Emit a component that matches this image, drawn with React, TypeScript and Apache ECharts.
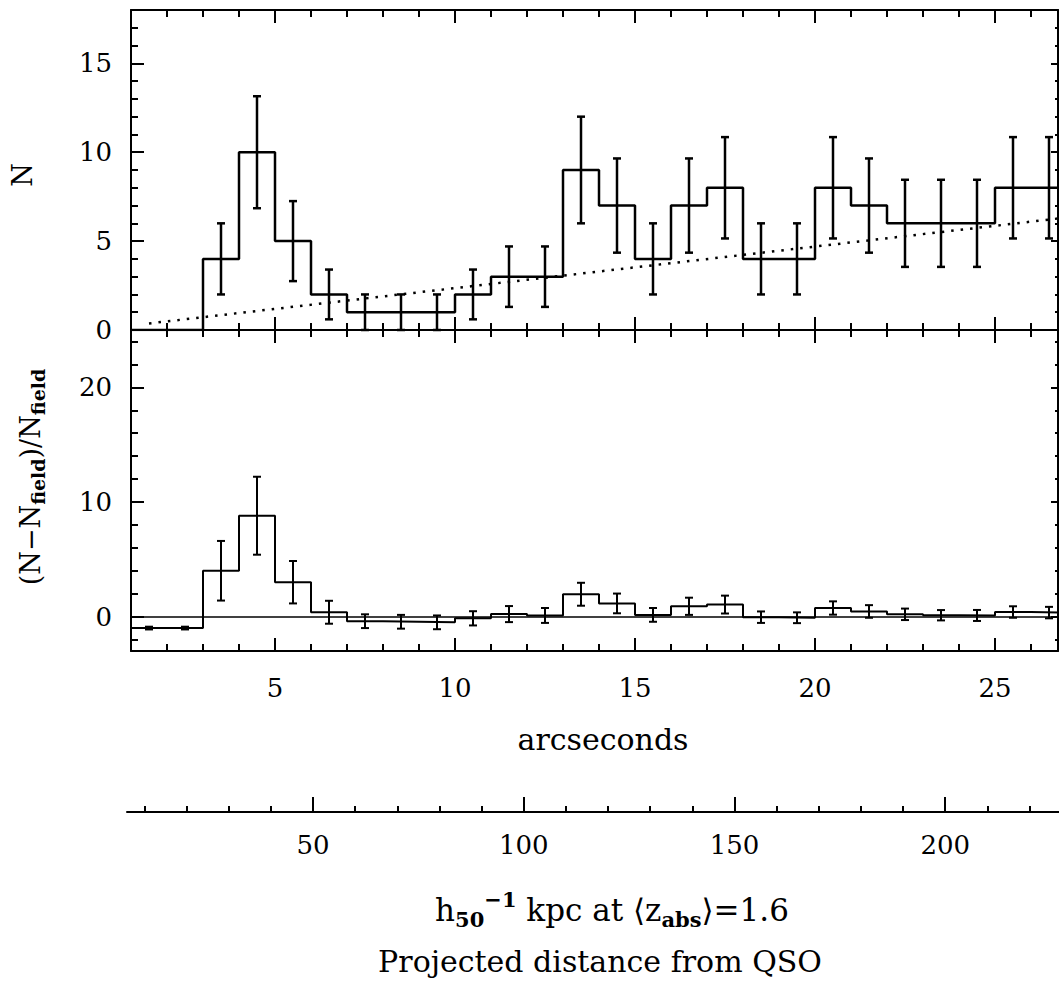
import React, { useEffect, useRef } from "react";
import * as echarts from "echarts";

// ---- data ----
const binEdges = [1, 2, 3, 4, 5, 6, 7, 8, 9, 10, 11, 12, 13, 14, 15, 16, 17, 18, 19, 20, 21, 22, 23, 24, 25, 26, 27];
const binCenters = [1.5, 2.5, 3.5, 4.5, 5.5, 6.5, 7.5, 8.5, 9.5, 10.5, 11.5, 12.5, 13.5, 14.5, 15.5, 16.5, 17.5, 18.5, 19.5, 20.5, 21.5, 22.5, 23.5, 24.5, 25.5, 26.5];
const counts = [0, 0, 4, 10, 5, 2, 1, 1, 1, 2, 3, 3, 9, 7, 4, 7, 8, 4, 4, 8, 7, 6, 6, 6, 8, 8];
const countErr = [0, 0, 2.0, 3.15, 2.25, 1.4, 1.0, 1.0, 1.0, 1.4, 1.7, 1.7, 3.0, 2.65, 2.0, 2.65, 2.85, 2.0, 2.0, 2.85, 2.65, 2.45, 2.45, 2.45, 2.85, 2.85];
const excess = [-1, -1, 4.0, 8.8, 3.0, 0.38, -0.4, -0.45, -0.5, -0.15, 0.22, 0.1, 1.95, 1.15, 0.15, 0.9, 1.05, -0.05, -0.1, 0.75, 0.45, 0.2, 0.12, 0.1, 0.4, 0.35];
const excessErr = [0.12, 0.12, 2.6, 3.4, 1.85, 1.0, 0.6, 0.6, 0.6, 0.62, 0.7, 0.65, 1.0, 0.86, 0.6, 0.75, 0.78, 0.5, 0.47, 0.58, 0.55, 0.5, 0.45, 0.48, 0.5, 0.5];
const trendX = [1.5, 26.75];
const trendY = [0.37, 6.27];

const arcMajor = [5, 10, 15, 20, 25];
const arcMinor = [2, 3, 4, 6, 7, 8, 9, 11, 12, 13, 14, 16, 17, 18, 19, 21, 22, 23, 24, 26];
const nMajor = [0, 5, 10, 15];
const nMinor = [1, 2, 3, 4, 6, 7, 8, 9, 11, 12, 13, 14, 16, 17];
const exMajor = [0, 10, 20];
const exMinor = [-2, 2, 4, 6, 8, 12, 14, 16, 18, 22, 24];
const kpcMajor = [50, 100, 150, 200];
const kpcMinor = [10, 20, 30, 40, 60, 70, 80, 90, 110, 120, 130, 140, 160, 170, 180, 190, 210, 220];

const X_MIN = 1;
const X_MAX = 26.75;
const KPC_MIN = 5.85;
const KPC_MAX = 227;

const FONT = "DejaVu Serif";
const BLACK = "#000";

function xAxis(gridIndex: number, position: string, ticks: number[], len: number, opts: any = {}) {
  return {
    type: "value",
    gridIndex,
    position,
    min: opts.min ?? X_MIN,
    max: opts.max ?? X_MAX,
    axisLine: { show: !!opts.line, onZero: false, lineStyle: { color: BLACK, width: 2 } },
    axisTick: { show: true, inside: true, length: len, customValues: ticks, lineStyle: { color: BLACK, width: 2 } },
    axisLabel: opts.labels
      ? { show: true, customValues: opts.labels, color: BLACK, fontFamily: FONT, fontSize: 26, margin: opts.margin ?? 24 }
      : { show: false },
    splitLine: { show: false },
  };
}

function yAxis(gridIndex: number, position: string, ticks: number[], len: number, min: number, max: number, opts: any = {}) {
  return {
    type: "value",
    gridIndex,
    position,
    min,
    max,
    axisLine: { show: !!opts.line, onZero: false, lineStyle: { color: BLACK, width: 2 } },
    axisTick: { show: true, inside: true, length: len, customValues: ticks, lineStyle: { color: BLACK, width: 2 } },
    axisLabel: opts.labels
      ? { show: true, customValues: opts.labels, color: BLACK, fontFamily: FONT, fontSize: 26, margin: 19 }
      : { show: false },
    splitLine: { show: false },
  };
}

function histPoints(vals: number[]) {
  const pts: number[][] = vals.map((v, i) => [binEdges[i], v]);
  pts.push([binEdges[vals.length], vals[vals.length - 1]]);
  return pts;
}

function errRender(capHalf: number, lw: number) {
  return (params: any, api: any) => {
    const x = api.value(0);
    const y = api.value(1);
    const e = api.value(2);
    if (!e) return { type: "group", children: [] };
    const top = api.coord([x, y + e]);
    const bot = api.coord([x, y - e]);
    const style = { stroke: BLACK, lineWidth: lw };
    return {
      type: "group",
      children: [
        { type: "line", shape: { x1: top[0], y1: top[1], x2: bot[0], y2: bot[1] }, style },
        { type: "line", shape: { x1: top[0] - capHalf, y1: top[1], x2: top[0] + capHalf, y2: top[1] }, style },
        { type: "line", shape: { x1: bot[0] - capHalf, y1: bot[1], x2: bot[0] + capHalf, y2: bot[1] }, style },
      ],
    };
  };
}

export default function App() {
  const ref = useRef<HTMLDivElement>(null);
  useEffect(() => {
    if (!ref.current) return;
    const chart = echarts.init(ref.current, null, { renderer: "svg" });
    const option: any = {
      animation: false,
      backgroundColor: "#fff",
      grid: [
        { left: 131, right: 1, top: 10, height: 320 },
        { left: 131, right: 1, top: 330, height: 321 },
        { left: 127, right: 0, top: 780, height: 32 },
      ],
      xAxis: [
        xAxis(0, "bottom", arcMajor, 13, { line: true }),
        xAxis(0, "bottom", arcMinor, 7),
        xAxis(0, "top", arcMajor, 13, { line: true }),
        xAxis(0, "top", arcMinor, 7),
        xAxis(1, "bottom", arcMajor, 13, { line: true, labels: arcMajor }),
        xAxis(1, "bottom", arcMinor, 7),
        xAxis(1, "top", arcMajor, 13, { line: true }),
        xAxis(1, "top", arcMinor, 7),
        xAxis(2, "bottom", kpcMajor, 15, { line: true, labels: kpcMajor, min: KPC_MIN, max: KPC_MAX, margin: 20 }),
        xAxis(2, "bottom", kpcMinor, 6, { min: KPC_MIN, max: KPC_MAX }),
      ],
      yAxis: [
        yAxis(0, "left", nMajor, 13, 0, 18, { line: true, labels: nMajor }),
        yAxis(0, "left", nMinor, 7, 0, 18),
        yAxis(0, "right", nMajor, 7, 0, 18, { line: true }),
        yAxis(0, "right", nMinor, 3, 0, 18),
        yAxis(1, "left", exMajor, 13, -3, 25, { line: true, labels: exMajor }),
        yAxis(1, "left", exMinor, 7, -3, 25),
        yAxis(1, "right", exMajor, 7, -3, 25, { line: true }),
        yAxis(1, "right", exMinor, 3, -3, 25),
        { type: "value", gridIndex: 2, min: 0, max: 1, show: false },
      ],
      series: [
        {
          type: "line",
          xAxisIndex: 0,
          yAxisIndex: 0,
          data: trendX.map((x, i) => [x, trendY[i]]),
          showSymbol: false,
          symbol: "none",
          lineStyle: { color: BLACK, width: 2.5, type: [2.5, 7] },
          z: 3,
        },
        {
          type: "line",
          xAxisIndex: 0,
          yAxisIndex: 0,
          step: "end",
          data: histPoints(counts),
          symbol: "none",
          lineStyle: { color: BLACK, width: 2.5 },
          z: 4,
        },
        {
          type: "custom",
          xAxisIndex: 0,
          yAxisIndex: 0,
          data: binCenters.map((x, i) => [x, counts[i], countErr[i]]),
          renderItem: errRender(4, 2.5),
          z: 5,
        },
        {
          type: "line",
          xAxisIndex: 4,
          yAxisIndex: 4,
          step: "end",
          data: histPoints(excess),
          symbol: "none",
          lineStyle: { color: BLACK, width: 2 },
          z: 4,
          markLine: {
            silent: true,
            symbol: "none",
            label: { show: false },
            lineStyle: { color: BLACK, width: 1.5, type: "solid" },
            data: [{ yAxis: 0 }],
          },
        },
        {
          type: "custom",
          xAxisIndex: 4,
          yAxisIndex: 4,
          data: binCenters.map((x, i) => [x, excess[i], excessErr[i]]),
          renderItem: errRender(4, 2),
          z: 5,
        },
      ],
      graphic: [
        {
          type: "text",
          x: 22,
          y: 175,
          rotation: Math.PI / 2,
          style: { text: "N", fontFamily: FONT, fontSize: 27, fill: BLACK, align: "center", verticalAlign: "middle" },
        },
        {
          type: "text",
          x: 30,
          y: 477,
          rotation: Math.PI / 2,
          style: {
            text: "(N\u2212N{sub|field})/N{sub|field}",
            fontFamily: FONT,
            fontSize: 27,
            fill: BLACK,
            align: "center",
            verticalAlign: "middle",
            rich: {
              sub: { fontFamily: FONT, fontSize: 19, fontWeight: "bold", fill: BLACK, padding: [16, 0, 0, 0] },
            },
          },
        },
        {
          type: "text",
          x: 603,
          y: 739,
          style: { text: "arcseconds", fontFamily: FONT, fontSize: 30, fill: BLACK, align: "center", verticalAlign: "middle" },
        },
        {
          type: "text",
          x: 612,
          y: 910,
          style: {
            text: "h{sub|50}{sup|\u22121} kpc at \u27e8z{sub|abs}\u27e9=1.6",
            fontFamily: FONT,
            fontSize: 31,
            fill: BLACK,
            align: "center",
            verticalAlign: "middle",
            rich: {
              sub: { fontFamily: FONT, fontSize: 21, fontWeight: "bold", fill: BLACK, padding: [18, 0, 0, 0] },
              sup: { fontFamily: FONT, fontSize: 21, fontWeight: "bold", fill: BLACK, padding: [0, 0, 22, 0] },
            },
          },
        },
        {
          type: "text",
          x: 600,
          y: 961,
          style: { text: "Projected distance from QSO", fontFamily: FONT, fontSize: 30, fill: BLACK, align: "center", verticalAlign: "middle" },
        },
      ],
    };
    chart.setOption(option);
    return () => chart.dispose();
  }, []);
  return <div ref={ref} style={{ position: "absolute", left: 0, top: 0, width: 1059, height: 998 }} />;
}
